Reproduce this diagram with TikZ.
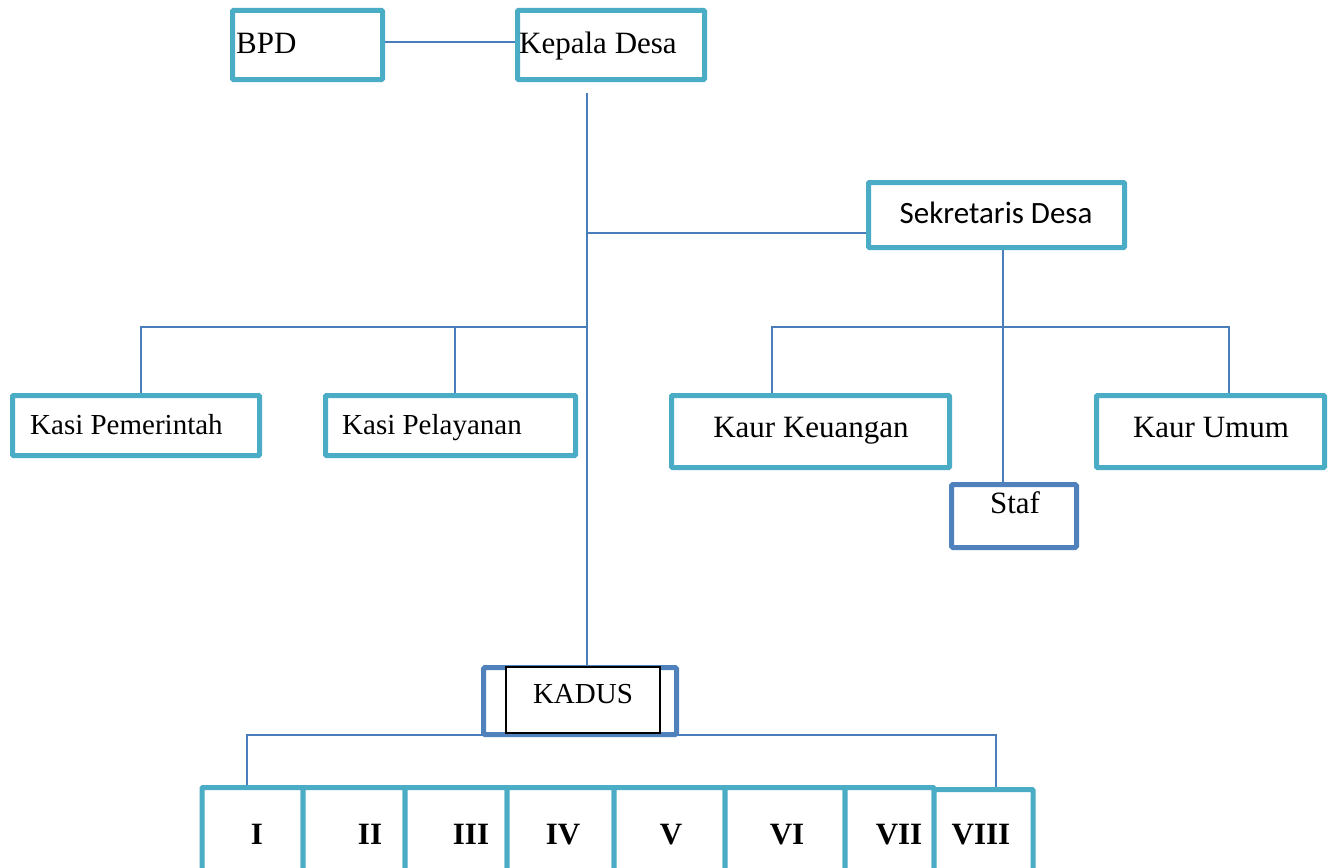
\documentclass[tikz,border=0pt]{standalone}
\usepackage{fontspec}
\setmainfont{Liberation Serif}
\newfontfamily\sekfont{Carlito}
\usetikzlibrary{calc}
\pgfdeclarelayer{bg}
\pgfsetlayers{bg,main}
\definecolor{boxc}{HTML}{4BACC6}
\definecolor{darkbox}{HTML}{4F81BD}
\definecolor{linec}{HTML}{4A7EBB}
\tikzset{
  box/.style={draw=boxc, line width=5pt, fill=white, rectangle, inner sep=0pt, rounded corners=1pt},
  dbox/.style={draw=darkbox, line width=5pt, fill=white, rectangle, inner sep=0pt, rounded corners=1.5pt},
  conn/.style={draw=linec, line width=1.8pt},
  lbl/.style={inner sep=0pt, font=\fontsize{31}{36}\selectfont},
  slbl/.style={inner sep=0pt, font=\fontsize{29}{34}\selectfont},
  numlbl/.style={inner sep=0pt, font=\fontsize{31}{36}\selectfont\bfseries},
}
\begin{document}
\begin{tikzpicture}[x=1pt,y=-1pt]
\useasboundingbox (0,0) rectangle (1337,867);
\clip (0,0) rectangle (1337,867);

% boxes
\node[box, minimum width=150pt, minimum height=69pt] (bpd) at (307.5,45) {};
\node[box, minimum width=187pt, minimum height=69pt] (kepala) at (611,45) {};
\node[box, minimum width=256pt, minimum height=65pt] (sek) at (996.5,215) {};
\node[box, minimum width=247pt, minimum height=60pt] (kp) at (136,425.5) {};
\node[box, minimum width=250pt, minimum height=60pt] (kpl) at (450.5,425.5) {};
\node[box, minimum width=278pt, minimum height=72pt] (kk) at (810.5,431.5) {};
\node[box, minimum width=228pt, minimum height=72pt] (ku) at (1210.5,431.5) {};
\node[dbox, minimum width=125pt, minimum height=63pt] (staf) at (1014,516) {};
\node[dbox, minimum width=193pt, minimum height=67pt] (kadus) at (580,701) {};
\node[draw=black, line width=1.2pt, fill=white, inner sep=0pt, minimum width=154pt, minimum height=66pt] (kadusin) at (583,700) {};

% bottom boxes
\node[box, minimum width=101pt, minimum height=120pt] (b1) at (252.5,847.5) {};
\node[box, minimum width=102pt, minimum height=120pt] (b2) at (354,847.5) {};
\node[box, minimum width=102pt, minimum height=120pt] (b3) at (456,847.5) {};
\node[box, minimum width=107pt, minimum height=120pt] (b4) at (560.5,847.5) {};
\node[box, minimum width=111pt, minimum height=120pt] (b5) at (669.5,847.5) {};
\node[box, minimum width=120pt, minimum height=120pt] (b6) at (785,847.5) {};
\node[box, minimum width=89pt, minimum height=120pt] (b7) at (889.5,847.5) {};
\node[box, minimum width=99pt, minimum height=120pt] (b8) at (983.5,849.5) {};

% labels
\node[lbl, anchor=base west] (tbpd) at (236,53) {BPD};
\node[lbl, anchor=base west] (tkep) at (519,53) {Kepala Desa};
\node[inner sep=0pt, font=\sekfont\fontsize{31}{36}\selectfont, anchor=base] (tsek) at (996,223) {Sekretaris Desa};
\node[slbl, anchor=base west] (tkp) at (30,434) {Kasi Pemerintah};
\node[slbl, anchor=base west] (tkpl) at (342,434) {Kasi Pelayanan};
\node[lbl, anchor=base] (tkk) at (811,437) {Kaur Keuangan};
\node[lbl, anchor=base] (tku) at (1211,437) {Kaur Umum};
\node[lbl, anchor=base] (tstaf) at (1015,513) {Staf};
\node[slbl, anchor=base] (tkadus) at (583,703) {KADUS};

\node[numlbl, anchor=base] (n1) at (257,844) {I};
\node[numlbl, anchor=base] (n2) at (370,844) {II};
\node[numlbl, anchor=base] (n3) at (471,844) {III};
\node[numlbl, anchor=base] (n4) at (563,844) {IV};
\node[numlbl, anchor=base] (n5) at (671,844) {V};
\node[numlbl, anchor=base] (n6) at (787,844) {VI};
\node[numlbl, anchor=base] (n7) at (899,844) {VII};
\node[numlbl, anchor=base] (n8) at (981,844) {VIII};

% connectors (behind the boxes)
\begin{pgfonlayer}{bg}
\fill[white] (0,0) rectangle (1337,867);
\draw[conn] ([yshift=3pt]bpd.east) -- ([yshift=3pt]kepala.west);
\coordinate (top) at (587,93);
\draw[conn] (top) -- (top |- kadus.north);
\coordinate (sj) at ($(sek.west)+(0,18)$);
\draw[conn] (sj) -- (sj -| top);
\coordinate (lj) at (top |- 0,327);
\draw[conn] (lj) -| ($(kp.north)+(5,0)$);
\draw[conn] ($(kpl.north)+(4.5,0)$) |- (lj);
\coordinate (rj) at ($(sek.south)+(6.5,0)$);
\draw[conn] (rj) -- (rj |- staf.north);
\draw[conn] ($(kk.north)+(-38.5,0)$) |- ($(ku.north)+(18.5,-66)$) -- ($(ku.north)+(18.5,0)$);
\draw[conn] ($(b1.north)+(-5.5,0)$) |- ($(b8.north)+(12.5,-52)$) -- ($(b8.north)+(12.5,0)$);
\end{pgfonlayer}
\end{tikzpicture}
\end{document}
